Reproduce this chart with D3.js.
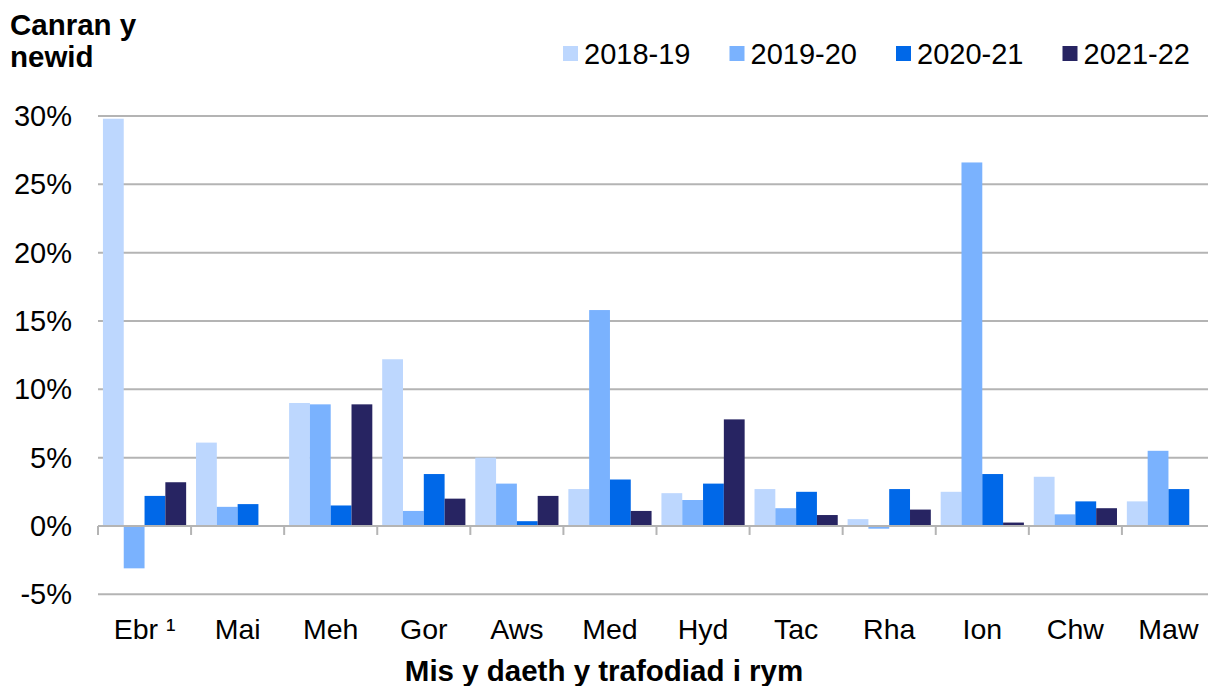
<!DOCTYPE html>
<html lang="cy">
<head>
    <meta charset="UTF-8">
    <title>Canran y newid</title>
    <script src="https://d3js.org/d3.v7.min.js"></script>
    <style>
        * { margin: 0; padding: 0; }
        html, body { width: 1208px; height: 686px; overflow: hidden; background: #fff; }
        svg { display: block; font-family: "Liberation Sans", Arial, sans-serif; }
    </style>
</head>
<body>
    <svg width="1208" height="686"></svg>

    <script>
        const months = ["Ebr \u00b9", "Mai", "Meh", "Gor", "Aws", "Med", "Hyd", "Tac", "Rha", "Ion", "Chw", "Maw"];
        const seriesNames = ["2018-19", "2019-20", "2020-21", "2021-22"];
        const colors = ["#bdd7fe", "#7ab2fe", "#0068e8", "#272462"];

        // percent change by month, one array per year
        const v2018 = [29.8, 6.1, 9.0, 12.2, 5.0, 2.7, 2.4, 2.7, 0.5, 2.5, 3.6, 1.8];
        const v2019 = [-3.1, 1.4, 8.9, 1.1, 3.1, 15.8, 1.9, 1.3, -0.2, 26.6, 0.85, 5.5];
        const v2020 = [2.2, 1.6, 1.5, 3.8, 0.35, 3.4, 3.1, 2.5, 2.7, 3.8, 1.8, 2.7];
        const v2021 = [3.2, null, 8.9, 2.0, 2.2, 1.1, 7.8, 0.8, 1.2, 0.25, 1.3, null];
        const seriesValues = [v2018, v2019, v2020, v2021];

        const yTicks = [-5, 0, 5, 10, 15, 20, 25, 30];

        const svg = d3.select("svg");
        const plotLeft = 98, plotRight = 1215, plotTop = 116, plotBottom = 594.3;

        const x0 = d3.scaleBand().domain(months).range([plotLeft, plotRight]).padding(0);
        const bw = x0.bandwidth();
        const x1 = d3.scaleBand().domain(seriesNames).range([bw * 0.053, bw * 0.947]).padding(0);
        const y = d3.scaleLinear().domain([-5, 30]).range([plotBottom, plotTop]);

        // gridlines
        svg.append("g")
            .selectAll("line")
            .data(yTicks.filter(d => d !== 0))
            .join("line")
            .attr("x1", plotLeft)
            .attr("x2", plotRight)
            .attr("y1", d => y(d))
            .attr("y2", d => y(d))
            .attr("stroke", "#b4b4b4")
            .attr("stroke-width", 2);

        // y labels
        svg.append("g")
            .selectAll("text")
            .data(yTicks)
            .join("text")
            .attr("x", 72)
            .attr("y", d => y(d))
            .attr("dy", "0.35em")
            .attr("text-anchor", "end")
            .attr("font-size", 29)
            .attr("fill", "#000")
            .text(d => d + "%");

        // bars
        const rows = [];
        months.forEach((m, i) => {
            seriesNames.forEach((s, j) => {
                const v = seriesValues[j][i];
                if (v !== null) rows.push({ month: m, series: s, value: v, color: colors[j] });
            });
        });

        svg.append("g")
            .selectAll("rect")
            .data(rows)
            .join("rect")
            .attr("x", d => x0(d.month) + x1(d.series))
            .attr("width", x1.bandwidth())
            .attr("y", d => y(Math.max(0, d.value)))
            .attr("height", d => Math.abs(y(d.value) - y(0)))
            .attr("fill", d => d.color);

        // zero axis with category ticks
        const axis = svg.append("g");
        axis.append("line")
            .attr("x1", plotLeft)
            .attr("x2", plotRight)
            .attr("y1", y(0))
            .attr("y2", y(0))
            .attr("stroke", "#b4b4b4")
            .attr("stroke-width", 2);
        axis.selectAll("line.tick")
            .data(months.map(m => x0(m)).concat([plotRight]))
            .join("line")
            .attr("class", "tick")
            .attr("x1", d => d)
            .attr("x2", d => d)
            .attr("y1", y(0))
            .attr("y2", y(0) + 9)
            .attr("stroke", "#b4b4b4")
            .attr("stroke-width", 2);

        // month labels
        svg.append("g")
            .selectAll("text")
            .data(months)
            .join("text")
            .attr("x", d => x0(d) + bw / 2)
            .attr("y", 639)
            .attr("text-anchor", "middle")
            .attr("font-size", 28.5)
            .text(d => d);

        // axis title
        svg.append("text")
            .attr("x", 604)
            .attr("y", 681)
            .attr("text-anchor", "middle")
            .attr("font-size", 29.5)
            .attr("font-weight", "bold")
            .text("Mis y daeth y trafodiad i rym");

        // y title
        const yt = svg.append("text")
            .attr("font-size", 29.5)
            .attr("font-weight", "bold");
        yt.append("tspan").attr("x", 10).attr("y", 35).text("Canran y");
        yt.append("tspan").attr("x", 10).attr("y", 67).text("newid");

        // legend
        const legend = svg.append("g")
            .selectAll("g")
            .data(seriesNames)
            .join("g")
            .attr("transform", (d, i) => `translate(${563 + i * 166.5},0)`);
        legend.append("rect")
            .attr("x", 0)
            .attr("y", 46)
            .attr("width", 15)
            .attr("height", 15)
            .attr("fill", (d, i) => colors[i]);
        legend.append("text")
            .attr("x", 21)
            .attr("y", 64)
            .attr("font-size", 29)
            .text(d => d);
    </script>
</body>
</html>
